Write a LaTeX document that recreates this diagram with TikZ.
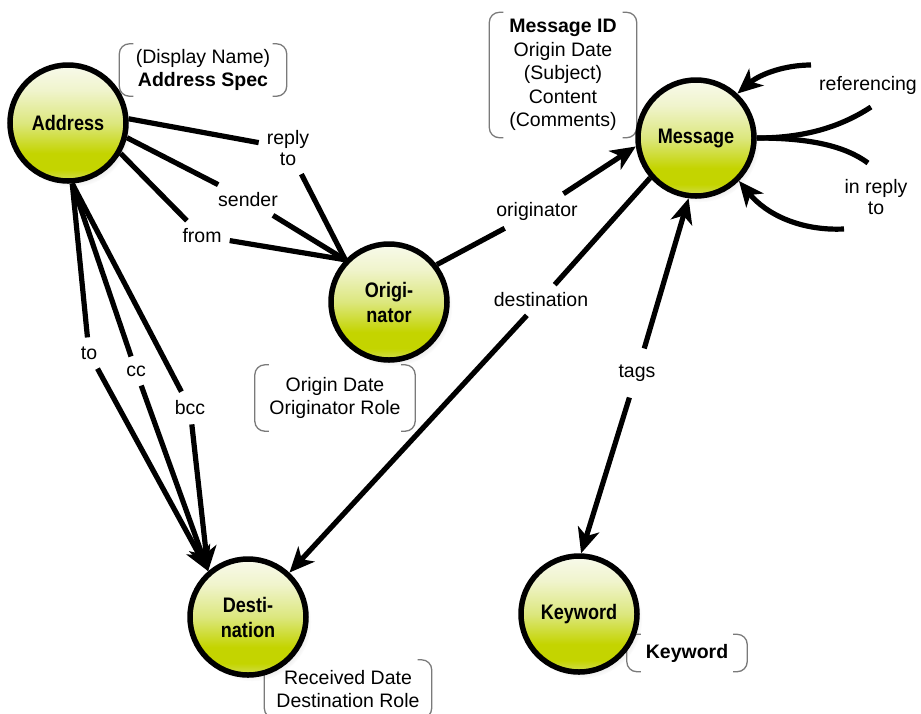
\documentclass[tikz,border=0pt]{standalone}
\usepackage{fontspec}
\setmainfont{Liberation Sans}
\newfontfamily\circlefont[FakeStretch=0.86]{Liberation Sans}
\usetikzlibrary{arrows.meta,shadows}

% palette
\definecolor{limeEdge}{HTML}{D2DF55}
\definecolor{limeDeep}{HTML}{C4D400}
\definecolor{limeMid}{HTML}{DCE77E}
\definecolor{limeLight}{HTML}{F0F4CC}
\definecolor{limePale}{HTML}{F8FAEC}
\definecolor{bracketgray}{HTML}{7A7A7A}

% vertical fill of the entity balls (node spans 25bp..75bp)
\pgfdeclareverticalshading{limeball}{100bp}{%
  color(0bp)=(limeEdge); color(25bp)=(limeEdge); color(30bp)=(limeDeep);
  color(37bp)=(limeDeep); color(50bp)=(limeMid); color(64bp)=(limeLight);
  color(75bp)=(limePale); color(100bp)=(limePale)}

\tikzset{
  entity/.style={circle, draw=black, line width=5.5pt, minimum size=116pt,
    inner sep=0pt, shading=limeball, align=center,
    font=\circlefont\bfseries\fontsize{21}{25}\selectfont,
    circular drop shadow={shadow xshift=4pt, shadow yshift=-5pt,
      shadow scale=1.02, opacity=0.2}},
  edgelabel/.style={font=\fontsize{19.5}{21.5}\selectfont, align=center,
    inner sep=8pt},
  note/.style={font=\fontsize{19.5}{23.5}\selectfont, align=center,
    inner sep=0pt},
  bracket/.style={draw=bracketgray, line width=1.3pt, rounded corners=10pt},
  link/.style={line width=5.2pt},
  tip/.style={-{Stealth[length=25pt, width=22pt, inset=7pt]}}
}

% round brackets on both sides of an attribute note
\newcommand\notebrackets[1]{%
  \draw[bracket] ([xshift=14pt]#1.north west) -- (#1.north west)
    -- (#1.south west) -- ([xshift=14pt]#1.south west);
  \draw[bracket] ([xshift=-14pt]#1.north east) -- (#1.north east)
    -- (#1.south east) -- ([xshift=-14pt]#1.south east);}

\begin{document}
\begin{tikzpicture}[x=1pt, y=-1pt]
  \fill[white] (0,0) rectangle (921,713);
  \useasboundingbox (0,0) rectangle (921,713);

  % attribute notes
  \node[note, minimum width=167pt, minimum height=52pt] (addrnote) at (203,70)
    {(Display Name)\\\textbf{Address Spec}};
  \node[note, minimum width=147pt, minimum height=125pt] (msgnote) at (563,75)
    {\textbf{Message ID}\\Origin Date\\(Subject)\\Content\\(Comments)};
  \node[note, minimum width=160pt, minimum height=66pt] (orignote) at (335,398)
    {Origin Date\\Originator Role};
  \node[note, minimum width=167pt, minimum height=58pt] (destnote) at (348,689)
    {Received Date\\Destination Role};
  \node[note, minimum width=120pt, minimum height=37pt] (kwnote) at (687,653)
    {\textbf{Keyword}};
  \notebrackets{addrnote}
  \notebrackets{msgnote}
  \notebrackets{orignote}
  \notebrackets{destnote}
  \notebrackets{kwnote}

  % entities
  \node[entity] (Address) at (68,123) {Address};
  \node[entity] (Message) at (696,138) {Message};
  \node[entity] (Originator) at (389,302) {Origi-\\nator};
  \node[entity] (Destination) at (248,617) {Desti-\\nation};
  \node[entity] (Keyword) at (579,614) {Keyword};

  % relation labels
  \node[edgelabel] (lreply) at (288,148) {reply\\to};
  \node[edgelabel] (lsender) at (248,200) {sender};
  \node[edgelabel] (lfrom) at (202,236) {from};
  \node[edgelabel] (lorig) at (537,211) {originator};
  \node[edgelabel] (ldest) at (541,300) {destination};
  \node[edgelabel, inner ysep=16pt] (ltags) at (637,373) {tags};
  \node[edgelabel, inner sep=9pt] (lto) at (89,353) {to};
  \node[edgelabel, inner sep=9pt] (lcc) at (136,371) {cc};
  \node[edgelabel, inner sep=9pt] (lbcc) at (190,408) {bcc};
  \node[edgelabel] (lref) at (868,85) {referencing};
  \node[edgelabel] (lirt) at (876,197) {in reply\\to};

  % loose ends of the self relations
  \coordinate (refout) at (871,107);
  \coordinate (refin) at (811,65);
  \coordinate (irtout) at (868,163);
  \coordinate (irtin) at (844,229);

  % Address -- Originator
  \draw[link] (Address.4) -- (lreply);
  \draw[link] (lreply) -- (Originator.136);
  \draw[link] (Address.-14) -- (lsender);
  \draw[link] (lsender) -- (Originator.136);
  \draw[link] (Address.-30) -- (lfrom);
  \draw[link] (lfrom) -- (Originator.136);

  % Address -> Destination
  \draw[link] (Address.-86) -- (lto);
  \draw[link, tip] (lto) -- (Destination.131);
  \draw[link] (Address.-86) -- (lcc);
  \draw[link, tip] (lcc) -- (Destination.131);
  \draw[link] (Address.-86) -- (lbcc);
  \draw[link, tip] (lbcc) -- (Destination.131);

  % Originator -> Message
  \draw[link] (Originator.38) -- (lorig);
  \draw[link, tip] (lorig) -- (Message.188);

  % Message -> Destination
  \draw[link] (Message.221) -- (ldest);
  \draw[link, tip] (ldest) -- (Destination.47);

  % Message <-> Keyword
  \draw[link, tip] (ltags) -- (Message.-97);
  \draw[link, tip] (ltags) -- (Keyword.88);

  % Message self relations
  \draw[link] (Message.0) .. controls (810,138) and (845,124) .. (refout);
  \draw[link, tip] (refin) .. controls (785,65) and (760,74) .. (Message.47);
  \draw[link] (Message.0) .. controls (810,138) and (845,146) .. (irtout);
  \draw[link, tip] (irtin) .. controls (800,231) and (766,214) .. (Message.-45);
\end{tikzpicture}
\end{document}
